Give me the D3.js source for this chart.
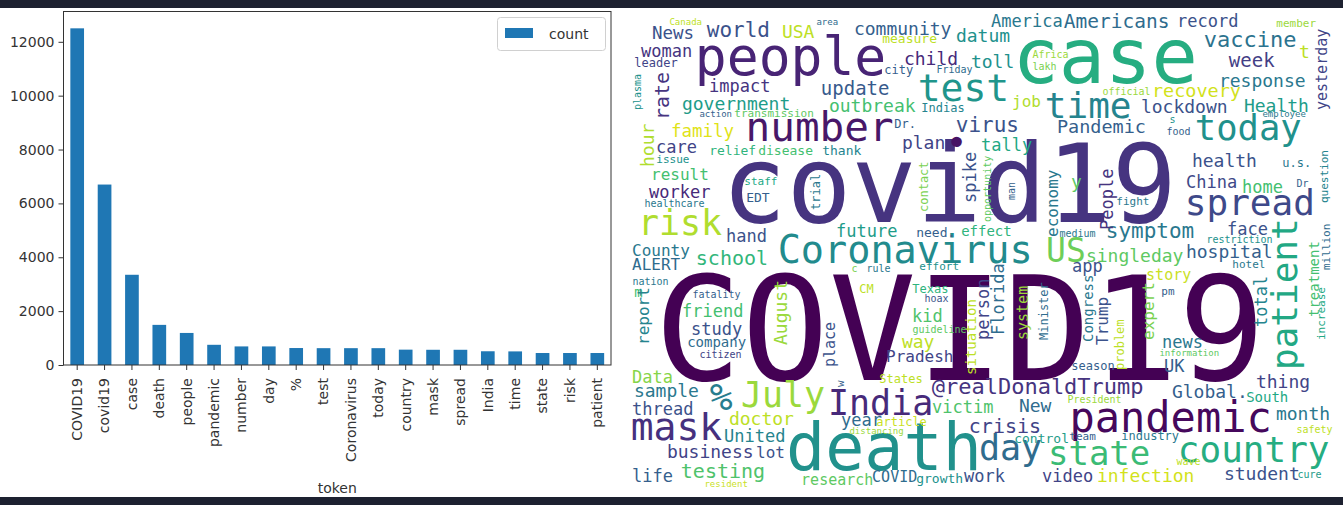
<!DOCTYPE html>
<html><head><meta charset="utf-8">
<script src="https://cdn.jsdelivr.net/npm/d3@7"></script>
<style>html,body{margin:0;padding:0;background:#fff;} svg{display:block;}</style>
</head><body><svg id="c" width="1343" height="505"></svg>
<script>
// ---------- bar chart data ----------
const tokens = ["COVID19","covid19","case","death","people","pandemic","number","day","%","test","Coronavirus","today","country","mask","spread","India","time","state","risk","patient"];
const counts = [12500,6700,3350,1490,1190,750,690,690,630,625,625,625,570,565,565,510,505,445,445,445];
const yTickValues = [0,2000,4000,6000,8000,10000,12000];
const seriesName = "count";
const xLabel = "token";

// ---------- word cloud data (cloud canvas units): text, x, baseline, size, colour value ----------
const wordText = ["COVID19","covid19","case","death","people","pandemic","number","Coronavirus","test","time","today","spread","risk","India","July","mask","%","day","state","country","US","@realDonaldTrump","vaccine","world","virus","symptom","Americans","update","testing","school","crisis","News","USA","community","measure","woman","leader","child","city","Friday","impact","government","outbreak","Indias","action","transmission","family","Dr.","plan","•","care","relief","disease","thank","issue","Canada","area","datum","America","record","member","toll","Africa","lakh","week","t","response","official","recovery","job","lockdown","Health","employee","Pandemic","s","food","tally","health","u.s.","result","worker","healthcare","staff","EDT","hand","future","need.","effect","medium","County","ALERT","c","rule","effort","nation","m","CM","fatality","Texas","hoax","friend","study","kid","guideline","company","citizen","way","Pradesh","Data","States","sample","thread","victim","doctor","United","year","article","distancing","business","lot","life","resident","research","COVID","growth","work","news","information","season","UK","thing","Global.","South","President","New","month","control","team","industry","safety","video","infection","wave","student","cure","China","home","Dr","face","restriction","hospital","hotel","singleday","app","story","pm","fight","y"];
const wordX = [35,100,389,162,70,444,120,152,292,419,569,559,12,202,115,5,84,353,422,552,420,305,577,80,329,479,437,194,54,69,342,25,155,227,255,14,7,277,257,309,82,55,202,294,72,107,44,267,275,320,29,82,131,195,29,42,189,329,364,550,649,344,405,405,602,672,592,475,525,385,514,617,635,430,542,539,354,565,655,24,22,17,117,119,99,209,289,334,432,5,5,224,239,292,5,7,232,65,285,297,55,64,285,285,60,72,275,259,5,252,7,5,305,102,97,214,249,222,40,129,5,77,174,245,289,337,535,532,444,537,629,545,619,440,392,649,387,442,494,669,415,470,549,597,670,559,615,669,600,579,559,605,459,445,519,534,489,444];
const wordY = [370,212,73,460,65,422,131,253,91,108,130,205,225,405,397,430,400,450,455,452,252,384,37,27,122,228,18,85,468,255,423,29,28,25,33,47,57,55,64,63,82,100,102,102,107,107,127,118,139,145,143,145,145,145,153,15,15,32,17,17,17,58,48,60,57,48,77,85,87,97,103,102,107,123,113,125,141,157,157,170,188,197,175,192,232,227,227,226,227,246,260,262,262,260,275,287,283,288,283,292,307,325,312,323,337,348,338,352,373,373,387,405,403,415,432,416,416,424,448,448,472,477,475,472,473,472,338,346,360,362,378,388,392,393,402,410,433,430,430,423,472,472,455,470,468,178,183,177,225,233,248,258,252,262,270,285,195,178];
const wordSize = [145,108,77,65,53,42,41,38.5,38,36,35.5,36,35,35,35,38,38,35,34,36,33,22,22,21,21,21,19.5,19,20,20,20,17.5,18,18,13,17,12,18,12,10,17,18,18,12,9,11,17.5,12,18,36,17,13,13,13,11,9,9,18,17,17,11,18,10,10,19,18,18,10,18.5,16,18,18,9,18.5,10,10,17,18,12,16,17,10,11,13,17,17,13,14,10,16,16,10,10,11,10,14,12,10,12,10,17,17,17,10,14,10,18,16,17,12,18,17,17,18,17,17,12,9,18,16,17,9,15,15,13,17,17,9,12,17,18,18,14,10,18,18,13,11,12,10,17,18,10,18,10,17,17,10,17,10,18,11,18,17,15,11,11,18];
const wordTone = [0.0,0.15,0.62,0.5,0.1,0.02,0.06,0.48,0.52,0.45,0.5,0.22,0.88,0.12,0.85,0.14,0.42,0.35,0.68,0.62,0.78,0.15,0.38,0.25,0.25,0.4,0.35,0.28,0.72,0.66,0.2,0.25,0.9,0.3,0.9,0.15,0.2,0.12,0.3,0.35,0.15,0.55,0.7,0.45,0.3,0.75,0.95,0.3,0.2,0.05,0.2,0.65,0.7,0.45,0.5,0.9,0.35,0.5,0.4,0.25,0.85,0.5,0.85,0.8,0.18,0.9,0.4,0.85,0.93,0.88,0.25,0.55,0.4,0.3,0.5,0.3,0.6,0.25,0.4,0.7,0.12,0.4,0.6,0.3,0.25,0.55,0.3,0.65,0.4,0.4,0.35,0.8,0.4,0.5,0.4,0.7,0.9,0.3,0.65,0.25,0.7,0.25,0.72,0.75,0.35,0.2,0.9,0.2,0.82,0.9,0.4,0.25,0.72,0.9,0.45,0.35,0.92,0.85,0.2,0.25,0.3,0.92,0.75,0.35,0.5,0.25,0.4,0.75,0.3,0.3,0.2,0.3,0.6,0.85,0.35,0.4,0.55,0.3,0.4,0.9,0.2,0.93,0.9,0.25,0.55,0.22,0.7,0.3,0.25,0.5,0.3,0.4,0.75,0.25,0.92,0.3,0.4,0.75];

// vertical words: text, column centre x, start (bottom) y, size, colour value
const vText = ["yesterday","plasma","rate","hour","question","trial","contact","spike","opportunity","man","economy","People","patient","treatment","million","total","expert","problem","Trump","Congress","Minister","system","Florida","person","situation","place","August","report","w","increase"];
const vX = [695,10,36,21,697,189,297,344,360,384,426,481,660,687,699,635,522,493,476,461,417,396,372,357,344,203,154,17,213,694];
const vY = [100,100,110,157,193,200,202,193,212,190,227,220,360,307,260,317,330,360,335,332,330,330,325,330,365,357,335,335,377,330];
const vSize = [15,10,20,18,11,12,12,17,10,10,16,17,36,14,11,17,16,12,16,14,12,15,17,17,14,15,18,16,11,11];
const vTone = [0.2,0.5,0.15,0.88,0.45,0.4,0.8,0.25,0.75,0.3,0.4,0.15,0.6,0.7,0.35,0.45,0.8,0.9,0.25,0.4,0.35,0.85,0.35,0.2,0.9,0.25,0.85,0.45,0.3,0.6];

const svg = d3.select("#c");
svg.append("rect").attr("width",1343).attr("height",505).attr("fill","#fff");
svg.append("rect").attr("x",0).attr("y",0).attr("width",1343).attr("height",8).attr("fill","#1d2130");
svg.append("rect").attr("x",0).attr("y",497).attr("width",1343).attr("height",8).attr("fill","#1d2130");

// ---------- bar chart ----------
const pLeft = 63.5, pRight = 611, pTop = 11.5, pBottom = 365;
const x = d3.scaleBand().domain(tokens).range([pLeft, pRight]).paddingInner(0.5).paddingOuter(0.25);
const y = d3.scaleLinear().domain([0, 13125]).range([pBottom, pTop]);
const tickFont = "DejaVu Sans, sans-serif";

svg.append("g").selectAll("rect").data(tokens).join("rect")
  .attr("x", d => x(d)).attr("width", x.bandwidth())
  .attr("y", (d,i) => y(counts[i])).attr("height", (d,i) => y(0) - y(counts[i]))
  .attr("fill", "#1f77b4");

const yAxis = svg.append("g").attr("transform", `translate(${pLeft},0)`)
  .call(d3.axisLeft(y).tickValues(yTickValues).tickFormat(d3.format("d")).tickSize(5).tickPadding(4).tickSizeOuter(0));
yAxis.select(".domain").remove();
yAxis.selectAll("text").attr("font-family", tickFont).attr("font-size", 14).attr("fill", "#333");
yAxis.selectAll("line").attr("stroke", "#333");

const xAxis = svg.append("g").attr("transform", `translate(0,${pBottom})`)
  .call(d3.axisBottom(x).tickSize(5).tickSizeOuter(0));
xAxis.select(".domain").remove();
xAxis.selectAll("line").attr("stroke", "#333");
xAxis.selectAll("text").attr("font-family", tickFont).attr("font-size", 14).attr("fill", "#333")
  .attr("transform", "rotate(-90)").attr("text-anchor", "end")
  .attr("x", -13).attr("y", 0).attr("dy", "0.35em");

svg.append("rect").attr("x", pLeft).attr("y", pTop).attr("width", pRight - pLeft).attr("height", pBottom - pTop)
  .attr("fill", "none").attr("stroke", "#333").attr("stroke-width", 1);

svg.append("text").attr("x", (pLeft + pRight) / 2).attr("y", 493).attr("text-anchor", "middle")
  .attr("font-family", tickFont).attr("font-size", 14).attr("fill", "#333").text(xLabel);

const lg = svg.append("g");
lg.append("rect").attr("x", 497.5).attr("y", 17.5).attr("width", 108).attr("height", 33).attr("rx", 3)
  .attr("fill", "#fff").attr("stroke", "#d0d0d0");
lg.append("rect").attr("x", 505).attr("y", 28).attr("width", 28).attr("height", 10).attr("fill", "#1f77b4");
lg.append("text").attr("x", 549).attr("y", 38.5).attr("font-family", tickFont).attr("font-size", 14)
  .attr("fill", "#333").text(seriesName);

// ---------- word cloud ----------
const cx = d3.scaleLinear().domain([0, 708]).range([628, 1336]);
const cy = d3.scaleLinear().domain([0, 482]).range([10, 492]);
const k = cx(1) - cx(0);
const color = d3.interpolateViridis;
const monoFont = "'DejaVu Sans Mono', monospace";

const cloud = svg.append("g");
cloud.selectAll("text.h").data(wordText).join("text").attr("class","h")
  .attr("x", (d,i) => cx(wordX[i] - 0.06 * wordSize[i]))
  .attr("y", (d,i) => cy(wordY[i]))
  .attr("font-family", monoFont)
  .attr("font-size", (d,i) => wordSize[i] * k)
  .attr("fill", (d,i) => color(wordTone[i]))
  .text(d => d);

cloud.selectAll("text.v").data(vText).join("text").attr("class","v")
  .attr("transform", (d,i) => `translate(${cx(vX[i] + 0.26 * vSize[i])},${cy(vY[i])}) rotate(-90)`)
  .attr("font-family", monoFont)
  .attr("font-size", (d,i) => vSize[i] * k)
  .attr("fill", (d,i) => color(vTone[i]))
  .text(d => d);
</script>
</body></html>
